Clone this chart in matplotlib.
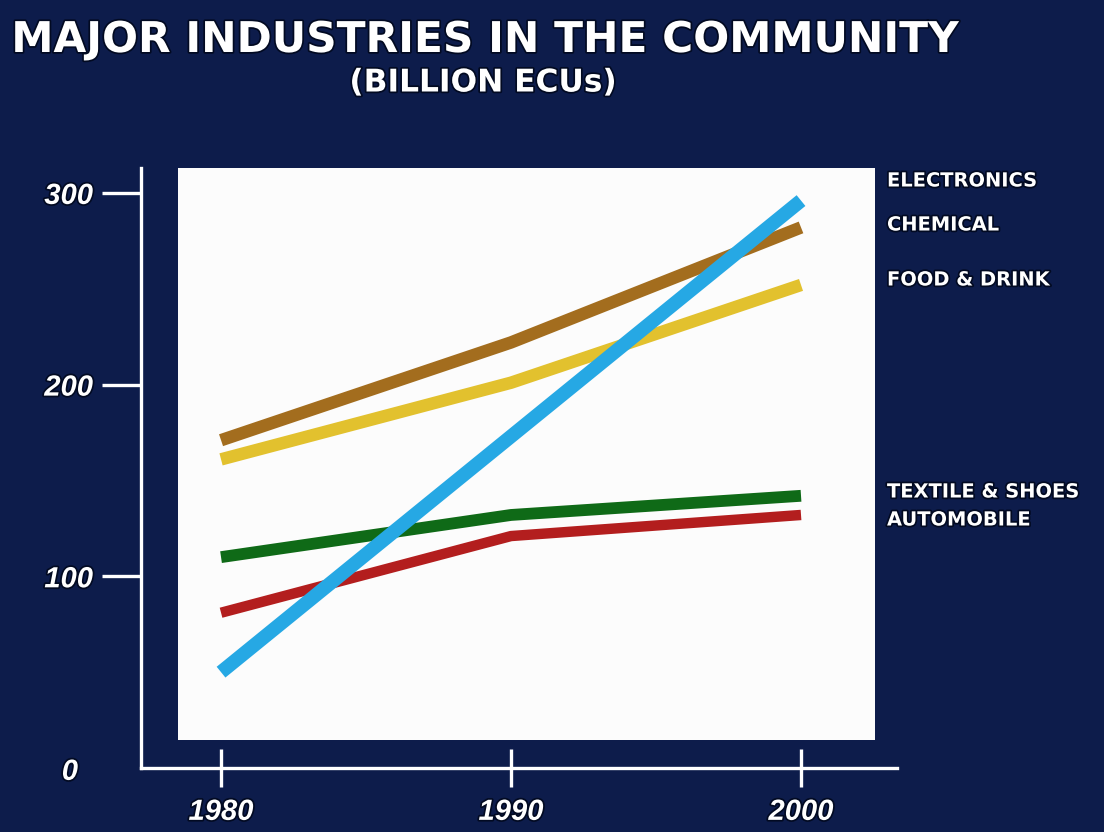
import matplotlib
matplotlib.use("Agg")
import matplotlib.pyplot as plt
import matplotlib.patheffects as pe
from matplotlib.patches import Rectangle

# ---- data ----
years = [1980, 1990, 2000]
industries = ["ELECTRONICS", "CHEMICAL", "FOOD & DRINK", "TEXTILE & SHOES", "AUTOMOBILE"]
electronics = [50, 173, 296]
chemical = [171, 222, 282]
food_drink = [161, 201, 252]
textile_shoes = [110, 132, 142]
automobile = [81, 121, 132]
y_ticks = [0, 100, 200, 300]
y_tick_labels = ["0", "100", "200", "300"]
x_tick_labels = ["1980", "1990", "2000"]

title = "MAJOR INDUSTRIES IN THE COMMUNITY"
subtitle = "(BILLION ECUs)"

# ---- style ----
NAVY = "#0d1c4b"
W, H = 1104, 832
fig = plt.figure(figsize=(W / 100, H / 100), dpi=100, facecolor=NAVY)

left_px, right_px, bottom_px, top_px = 141, 897, 768, 168
ax = fig.add_axes([left_px / W, 1 - bottom_px / H, (right_px - left_px) / W,
                   (bottom_px - top_px) / H])
ax.set_facecolor("none")
ax.set_xlim(1977.24, 2003.31)
ax.set_ylim(0, 313)

shadow = [pe.withStroke(linewidth=2.5, foreground="#020a22")]

# white panel
ax.add_patch(Rectangle((0.049, 0.0467), 0.922, 0.9533, transform=ax.transAxes,
                       facecolor="#fcfcfc", edgecolor="none", zorder=0))

series = [
    (chemical, "#a36d1e", 9),
    (food_drink, "#e2c12e", 9),
    (textile_shoes, "#0f6a17", 8.5),
    (automobile, "#b31e1e", 7.5),
    (electronics, "#26a8e4", 10),
]
for vals, col, lw in series:
    ax.plot(years, vals, color=col, lw=lw, solid_capstyle="butt",
            solid_joinstyle="round", zorder=3)

# spines
for s in ["top", "right"]:
    ax.spines[s].set_visible(False)
for s in ["left", "bottom"]:
    ax.spines[s].set_color("white")
    ax.spines[s].set_linewidth(2.4)
    ax.spines[s].set_capstyle("projecting")

tick_font = dict(family="Liberation Sans", weight="bold", style="italic", size=21)

ax.set_yticks(y_ticks)
ax.set_yticklabels(y_tick_labels, color="white", **tick_font)
ax.tick_params(axis="y", direction="out", length=28, width=2.4, color="white", pad=6.5)
for t in ax.yaxis.get_major_ticks():
    t.label1.set_path_effects(shadow)
# "0" label sits further left, without a tick line
yt = ax.yaxis.get_major_ticks()[0]
yt.tick1line.set_visible(False)
yt.label1.set_visible(False)
ax.text(-0.0833, -2, y_tick_labels[0], transform=ax.get_yaxis_transform(),
        ha="right", va="center", color="white", path_effects=shadow, **tick_font)

ax.set_xticks(years)
ax.set_xticklabels(x_tick_labels, color="white", **tick_font)
ax.tick_params(axis="x", direction="inout", length=27, width=2.4, color="white", pad=8)
for t in ax.xaxis.get_major_ticks():
    t.label1.set_path_effects(shadow)

# titles
fig.text(485 / W, 1 - 40 / H, title, ha="center", va="center", color="white",
         family="DejaVu Sans", weight="bold", size=30.5, path_effects=shadow)
fig.text(483 / W, 1 - 83 / H, subtitle, ha="center", va="center", color="white",
         family="DejaVu Sans", weight="bold", size=22.5, path_effects=shadow)

# right-hand labels
label_y = [181, 225, 280, 492, 520]
for name, yp in zip(industries, label_y):
    fig.text(887 / W, 1 - yp / H, name, ha="left", va="center", color="white",
             family="DejaVu Sans", weight="bold", size=14, path_effects=shadow)

fig.savefig("out.png", dpi=100, facecolor=NAVY)
